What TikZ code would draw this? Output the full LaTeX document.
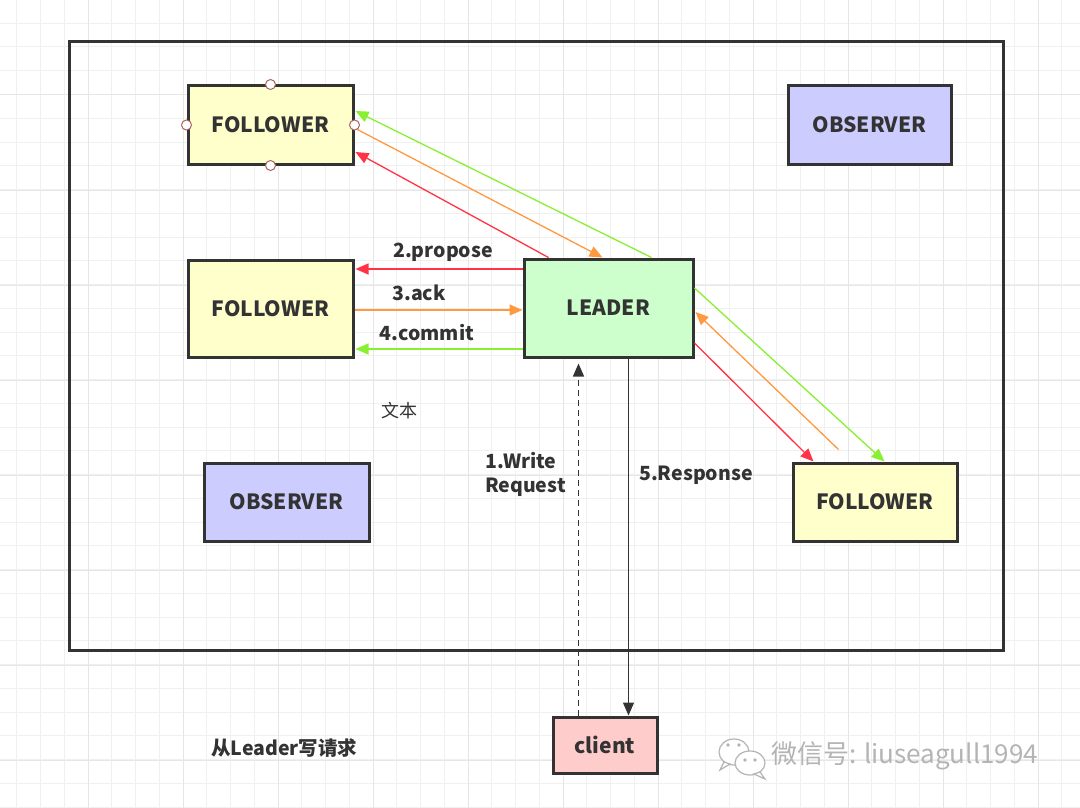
\documentclass[tikz,border=0pt]{standalone}
\usepackage{fontspec}
\setmainfont{Noto Sans CJK SC}
\usetikzlibrary{arrows.meta,calc}
\definecolor{fol}{HTML}{FFFFCC}
\definecolor{obs}{HTML}{CCCCFF}
\definecolor{lea}{HTML}{CCFFCC}
\definecolor{cli}{HTML}{FFCCCC}
\definecolor{bd}{HTML}{333333}
\definecolor{txt}{HTML}{333333}
\definecolor{rd}{HTML}{FF3344}
\definecolor{og}{HTML}{FF9940}
\definecolor{gn}{HTML}{88F030}
\definecolor{gridminor}{HTML}{F0F0F0}
\definecolor{gridmajor}{HTML}{E6E6E6}
\definecolor{wmc}{HTML}{B4B4B4}
\tikzset{
  box/.style={draw=bd, line width=3pt, minimum width=#1, inner sep=0pt, text=txt,
    font=\fontsize{21}{25}\selectfont\bfseries},
  handle/.style={circle, draw={rgb,255:red,170;green,100;blue,100}, fill=white, line width=1pt, minimum size=10pt, inner sep=0pt},
  flow/.style={line width=1.3pt, -{Triangle[length=13pt,width=11pt]}},
  lbl/.style={text=txt, font=\fontsize{19.5}{24}\selectfont\bfseries, inner sep=0pt},
}
\begin{document}
\begin{tikzpicture}[x=1pt,y=-1pt]
\useasboundingbox (0,0) rectangle (1080,808);
\fill[white] (0,0) rectangle (1080,808);
% grid
\foreach \i in {0,...,45} \draw[gridminor, line width=1pt] ({16.75+23.75*\i},0) -- ++(0,808);
\foreach \i in {0,...,34} \draw[gridminor, line width=1pt] (0,{23.25+23.75*\i}) -- ++(1080,0);
\foreach \i in {0,...,11} \draw[gridmajor, line width=1pt] ({88+95*\i},0) -- ++(0,808);
\foreach \i in {1,...,8} \draw[gridmajor, line width=1pt] (0,{95*\i}) -- ++(1080,0);
% frame
\draw[bd, line width=3pt] (69,42) rectangle (1003,650);
% nodes
\node[box=165pt, minimum height=78pt, fill=fol] (f1) at (270.5,125) {FOLLOWER};
\node[box=165pt, minimum height=97pt, fill=fol] (f2) at (270.5,308.5) {FOLLOWER};
\node[box=169pt, minimum height=98pt, fill=lea] (leader) at (608.5,308) {LEADER};
\node[box=163pt, minimum height=78pt, fill=obs] (o1) at (869.5,125) {OBSERVER};
\node[box=165pt, minimum height=78pt, fill=obs] (o2) at (286.5,502) {OBSERVER};
\node[box=164pt, minimum height=78pt, fill=fol] (f3) at (875,502) {FOLLOWER};
\node[box=104pt, minimum height=56pt, fill=cli] (client) at (605,745) {client};
% arrows to top-left follower
\draw[flow, rd] ($(leader.north west)+(26,0)$) -- ($(f1.east)+(1,27)$);
\draw[flow, og] ($(f1.east)+(0,3)$) -- ($(leader.north west)+(80,0)$);
\draw[flow, gn] ($(leader.north west)+(129,0)$) -- ($(f1.east)+(1,-14)$);
% middle
\draw[flow, rd] ($(leader.west)+(0,-39)$) -- ($(f2.east)+(1,-39.5)$);
\draw[flow, og] ($(f2.east)+(0,1.5)$) -- ($(leader.west)+(0,2)$);
\draw[flow, gn] ($(leader.west)+(0,41)$) -- ($(f2.east)+(1,40.5)$);
% right follower
\coordinate (oe) at ($(f3.north west)+(47,-12)$);
\draw[flow, rd] ($(leader.east)+(0,35)$) -- ($(f3.north west)+(22,0)$);
\draw[flow, og] (oe) -- ($(leader.east)+(1,4)$);
\draw[flow, gn] ($(leader.east)+(0,-20)$) -- ($(f3.north west)+(93,0)$);
% client
\draw[flow, bd, dashed, line width=1.3pt, dash pattern=on 6pt off 4pt] ($(client.north west)+(27,0)$) -- ($(leader.south west)+(56,5)$);
\draw[flow, bd, line width=1.3pt] ($(leader.south west)+(106,0)$) -- ($(client.north west)+(77,0)$);
% handles
\foreach \a in {north,south,east,west} \node[handle] at (f1.\a) {};
% labels
\node[lbl] (l2) at (443,252) {2.propose};
\node[lbl] (l3) at (419,293) {3.ack};
\node[lbl] (l4) at (427,333) {4.commit};
\node[lbl, anchor=west, align=left] (l1) at (485,474) {1.Write\\Request};
\node[lbl, anchor=west] (l5) at (639,475) {5.Response};
\node[text=txt, font=\fontsize{18}{22}\selectfont, inner sep=0pt] (tx) at (399,411) {文本};
\node[lbl, anchor=west] (cap) at (211,748) {从Leader写请求};
% watermark
\begin{scope}[draw=wmc, line width=1.2pt]
  \filldraw[fill=white] (734,752) ellipse [x radius=15, y radius=13];
  \filldraw[fill=white] (724,762) -- (720,770) -- (730,764) -- cycle;
  \filldraw[fill=white] (750,763) ellipse [x radius=15, y radius=12];
  \filldraw[fill=white] (760,772) -- (765,779) -- (754,774) -- cycle;
  \fill[wmc] (728,745) circle (1.8) (739,745) circle (1.8) (745,760) circle (1.8) (755,760) circle (1.8);
\end{scope}
\node[anchor=west, text=wmc, font=\fontsize{26}{30}\selectfont, inner sep=0pt] (wm) at (771,756) {微信号: liuseagull1994};
\end{tikzpicture}
\end{document}
